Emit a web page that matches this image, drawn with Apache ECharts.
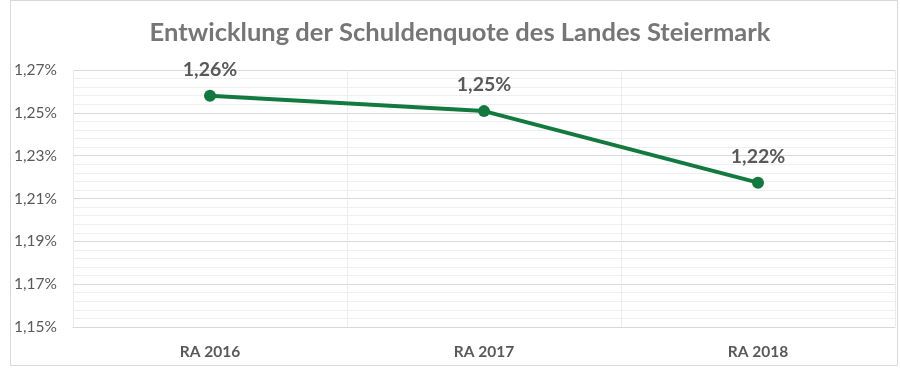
<!DOCTYPE html>
<html><head><meta charset="utf-8">
<script src="https://cdn.jsdelivr.net/npm/echarts@6/dist/echarts.min.js"></script>
<style>
html,body{margin:0;padding:0;background:#fff;}
#frame{position:absolute;left:10px;top:0px;width:886px;height:364px;border:1px solid #d9d9d9;}
#c{position:absolute;left:0;top:0;width:900px;height:368px;}
</style></head>
<body>
<div id="frame"></div>
<div id="c"></div>
<script>
const titleText = 'Entwicklung der Schuldenquote des Landes Steiermark';
const categories = ['RA 2016', 'RA 2017', 'RA 2018'];
const quote = [1.258, 1.2508, 1.2174];
const labelText = ['1,26%', '1,25%', '1,22%'];
const yMin = 1.15, yMax = 1.27, yStep = 0.02;

const fmt = v => v.toFixed(2).replace('.', ',') + '%';
const chart = echarts.init(document.getElementById('c'), null, {renderer: 'canvas'});
chart.setOption({
  animation: false,
  backgroundColor: 'transparent',
  title: {
    text: titleText, left: 455, top: 15, textAlign: 'center',
    textStyle: {fontFamily: 'Lato', fontWeight: 'bold', fontSize: 25.5, color: '#767676'}
  },
  grid: {left: 73, right: 5, top: 70, bottom: 41},
  xAxis: {
    type: 'category', data: categories, boundaryGap: true,
    axisLine: {show: true, lineStyle: {color: '#d9d9d9', width: 1}},
    axisTick: {show: false},
    axisLabel: {fontFamily: 'Lato', fontWeight: 'bold', fontSize: 15.5, color: '#595959', margin: 17},
    splitLine: {show: true, lineStyle: {color: '#ececec', width: 1}}
  },
  yAxis: {
    type: 'value', min: yMin, max: yMax, interval: yStep,
    axisLine: {show: false}, axisTick: {show: false},
    axisLabel: {fontFamily: 'Lato', fontSize: 15.5, color: '#595959', margin: 16, formatter: fmt},
    splitLine: {show: true, lineStyle: {color: '#d9d9d9', width: 1}},
    minorTick: {show: false, splitNumber: 5},
    minorSplitLine: {show: true, lineStyle: {color: '#efefef', width: 1}}
  },
  series: [{
    type: 'line', data: quote,
    lineStyle: {color: '#127a3e', width: 4},
    itemStyle: {color: '#127a3e'},
    symbol: 'circle', symbolSize: 12,
    label: {
      show: true, position: 'top', distance: 10,
      fontFamily: 'Lato', fontWeight: 'bold', fontSize: 19.5, color: '#595959',
      formatter: p => labelText[p.dataIndex]
    }
  }]
});
</script>
</body></html>
